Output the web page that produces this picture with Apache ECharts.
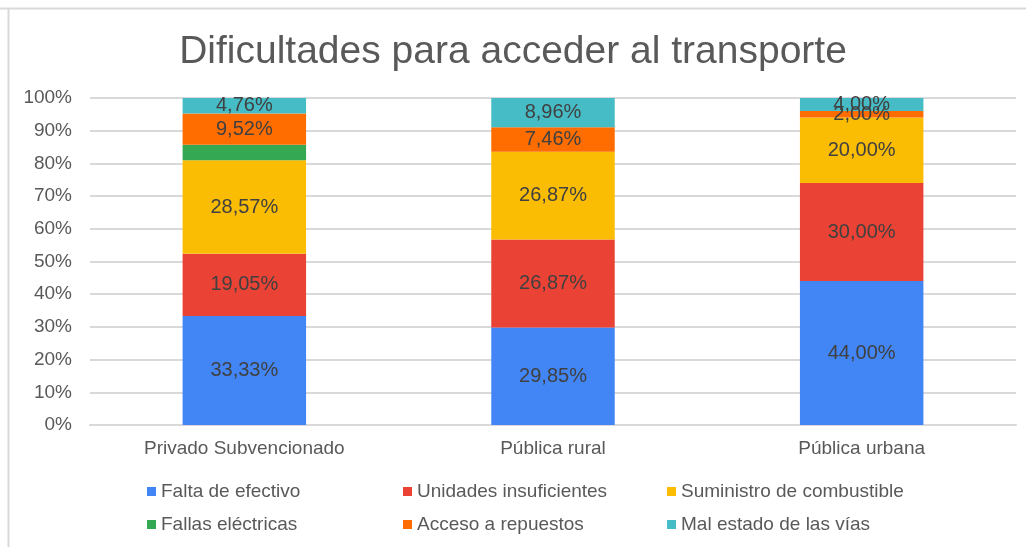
<!DOCTYPE html>
<html>
<head>
<meta charset="utf-8">
<script src="https://cdn.jsdelivr.net/npm/echarts@6/dist/echarts.min.js"></script>
<style>
  html, body { margin: 0; padding: 0; background: #fff; }
  #main { width: 1026px; height: 547px; }
</style>
</head>
<body>
<div id="main"></div>
<script>
var categories = ["Privado Subvencionado", "Pública rural", "Pública urbana"];
var seriesNames = [
  "Falta de efectivo",
  "Unidades insuficientes",
  "Suministro de combustible",
  "Fallas eléctricas",
  "Acceso a repuestos",
  "Mal estado de las vías"
];
var faltaEfectivo = [33.33, 29.85, 44.0];
var unidadesInsuficientes = [19.05, 26.87, 30.0];
var suministroCombustible = [28.57, 26.87, 20.0];
var fallasElectricas = [4.77, 0, 0];
var accesoRepuestos = [9.52, 7.46, 2.0];
var malEstadoVias = [4.76, 8.96, 4.0];
var colors = ["#4285f4", "#ea4335", "#fbbc04", "#34a853", "#ff6d01", "#46bdc6"];

var values = [faltaEfectivo, unidadesInsuficientes, suministroCombustible, fallasElectricas, accesoRepuestos, malEstadoVias];

var chart = echarts.init(document.getElementById("main"));

function legendBlock(left, names) {
  return {
    orient: "vertical",
    left: left,
    top: 477,
    itemWidth: 9,
    itemHeight: 9,
    itemGap: 14,
    icon: "rect",
    data: names,
    textStyle: { color: "#595959", fontSize: 19, fontFamily: "Liberation Sans" }
  };
}

chart.setOption({
  animation: false,
  color: colors,
  title: {
    text: "Dificultades para acceder al transporte",
    left: "center",
    top: 28,
    textStyle: { color: "#595959", fontSize: 39, fontWeight: "normal", fontFamily: "Liberation Sans" }
  },
  graphic: [
    { type: "line", shape: { x1: 0, y1: 8.5, x2: 1026, y2: 8.5 }, style: { stroke: "#d9d9d9", lineWidth: 2 } },
    { type: "line", shape: { x1: 8.5, y1: 8, x2: 8.5, y2: 547 }, style: { stroke: "#d9d9d9", lineWidth: 2 } }
  ],
  legend: [
    legendBlock(142, [seriesNames[0], seriesNames[3]]),
    legendBlock(398, [seriesNames[1], seriesNames[4]]),
    legendBlock(662, [seriesNames[2], seriesNames[5]])
  ],
  grid: { left: 90, right: 10, top: 98, bottom: 122 },
  xAxis: {
    type: "category",
    data: categories,
    axisTick: { show: false },
    axisLine: { lineStyle: { color: "#d9d9d9", width: 2 } },
    axisLabel: { color: "#595959", fontSize: 19, margin: 14, fontFamily: "Liberation Sans" }
  },
  yAxis: {
    type: "value",
    min: 0,
    max: 100,
    interval: 10,
    axisLine: { show: false },
    axisTick: { show: false },
    splitLine: { lineStyle: { color: "#d9d9d9", width: 2 } },
    axisLabel: { color: "#595959", fontSize: 19, margin: 18, formatter: "{value}%", fontFamily: "Liberation Sans" }
  },
  series: seriesNames.map(function (name, i) {
    return {
      name: name,
      type: "bar",
      stack: "total",
      barWidth: "40%",
      data: values[i],
      label: {
        show: i !== 3,
        position: "inside",
        color: "#404040",
        fontSize: 20,
        fontFamily: "Liberation Sans",
        formatter: function (p) {
          return p.value ? p.value.toFixed(2).replace(".", ",") + "%" : "";
        }
      }
    };
  })
});
</script>
</body>
</html>
